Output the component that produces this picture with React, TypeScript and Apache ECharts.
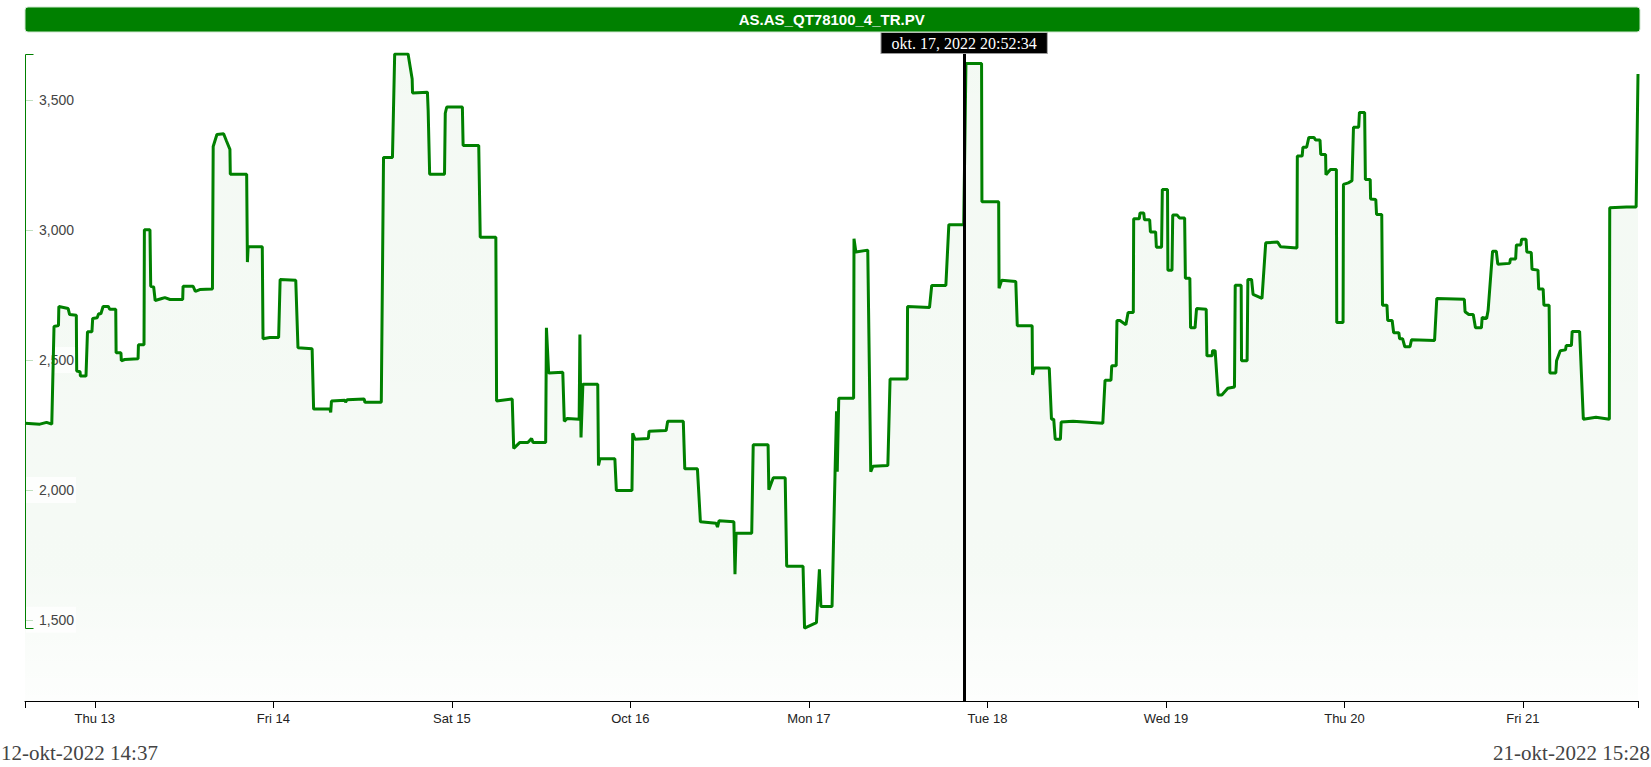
import React, { useEffect, useRef } from "react";
import * as echarts from "echarts";

const TITLE = "AS.AS_QT78100_4_TR.PV";
const START_LABEL = "12-okt-2022 14:37";
const END_LABEL = "21-okt-2022 15:28";
const MARKER_LABEL = "okt. 17, 2022 20:52:34";

const startTime = Date.UTC(2022, 9, 12, 14, 37);
const endTime = Date.UTC(2022, 9, 21, 15, 28);
const markerTime = Date.UTC(2022, 9, 17, 20, 52, 34);

const dayTicks = [13, 14, 15, 16, 17, 18, 19, 20, 21].map((d) => Date.UTC(2022, 9, d));
const dayLabels = ["Thu 13", "Fri 14", "Sat 15", "Oct 16", "Mon 17", "Tue 18", "Wed 19", "Thu 20", "Fri 21"];
const yTicks = [1500, 2000, 2500, 3000, 3500];

// [hours since 12-okt-2022 14:37, value]
const pointsOct12_13: [number, number][] = [
  [0, 2257], [2.0, 2253], [2.9, 2260], [3.6, 2253], [3.9, 2629], [4.5, 2633], [4.55, 2706], [5.8, 2698], [6.0, 2675], [6.9, 2672],
  [6.95, 2458], [7.4, 2455], [7.45, 2438], [8.2, 2438], [8.4, 2609], [9.0, 2609], [9.1, 2660], [9.7, 2663], [9.9, 2678], [10.2, 2678],
  [10.5, 2706], [11.2, 2706], [11.4, 2695], [12.2, 2695], [12.25, 2528], [12.9, 2528], [12.95, 2497], [13.4, 2502], [15.2, 2505], [15.25, 2559],
  [16.0, 2559], [16.05, 3001], [16.8, 3001], [16.9, 2784], [17.3, 2781], [17.5, 2729], [18.4, 2737], [18.8, 2740], [19.5, 2733], [21.2, 2733],
  [21.25, 2784], [22.6, 2784], [22.9, 2764], [23.5, 2771], [25.2, 2773], [25.3, 3322], [25.8, 3368], [26.7, 3371], [27.1, 3342], [27.55, 3311],
  [27.6, 3215], [29.8, 3215], [29.9, 2877], [30.0, 2936], [31.9, 2936], [32.0, 2582], [32.9, 2587],
];
const pointsOct14_15: [number, number][] = [
  [34.1, 2587], [34.3, 2810], [36.4, 2807], [36.7, 2547], [38.6, 2543], [38.8, 2311], [41.0, 2311], [41.1, 2298], [41.2, 2342], [43.0, 2345],
  [43.1, 2338], [43.3, 2347], [45.6, 2350], [45.7, 2337], [47.9, 2337], [48.2, 3280], [49.4, 3280], [49.7, 3678], [51.5, 3678], [52.05, 3582],
  [52.1, 3528], [54.1, 3531], [54.2, 3461], [54.4, 3215], [56.4, 3215], [56.5, 3450], [56.7, 3474], [58.8, 3474], [58.9, 3326], [61.0, 3326],
  [61.2, 2973], [63.3, 2973], [63.4, 2342], [65.5, 2350], [65.7, 2160], [66.5, 2182], [67.6, 2182], [68.1, 2198], [68.3, 2182], [70.0, 2182],
  [70.1, 2624], [70.4, 2450], [72.3, 2453], [72.5, 2264], [72.9, 2275], [74.5, 2272], [74.6, 2598], [74.75, 2202], [75.0, 2407], [77.0, 2407],
  [77.1, 2094], [77.3, 2120], [79.3, 2120], [79.5, 1998], [81.6, 1998],
];
const pointsOct16_17: [number, number][] = [
  [81.7, 2218], [82.0, 2195], [83.8, 2198], [83.9, 2226], [86.2, 2229], [86.4, 2264], [88.5, 2264], [88.7, 2081], [90.4, 2081], [90.8, 1877],
  [92.9, 1872], [93.1, 1857], [93.3, 1881], [95.3, 1877], [95.45, 1675], [95.6, 1833], [97.7, 1833], [97.9, 2174], [99.9, 2174], [100.0, 2001],
  [100.6, 2047], [102.2, 2047], [102.4, 1706], [104.6, 1706], [104.8, 1468], [106.4, 1489], [106.8, 1694], [107.0, 1551], [108.5, 1551], [108.9, 2063],
  [109.1, 2303], [109.2, 2070], [109.4, 2353], [111.4, 2353], [111.45, 2967], [111.7, 2916], [113.3, 2923], [113.7, 2070], [114.0, 2091], [116.0, 2094],
  [116.3, 2427], [118.6, 2427], [118.65, 2706], [121.6, 2702], [121.9, 2787], [123.8, 2787], [124.2, 3021], [126.2, 3021], [126.5, 3641], [128.6, 3641],
];
const pointsOct18_19: [number, number][] = [
  [128.65, 3109], [130.9, 3109], [130.95, 2776], [131.3, 2807], [133.2, 2802], [133.4, 2632], [135.4, 2632], [135.45, 2443], [135.7, 2469], [137.7, 2469],
  [138.0, 2272], [138.3, 2272], [138.5, 2195], [139.2, 2195], [139.3, 2261], [140.9, 2264], [144.9, 2257], [145.2, 2422], [146.0, 2422], [146.1, 2478],
  [146.7, 2478], [146.8, 2652], [147.2, 2652], [148.0, 2636], [148.3, 2683], [149.0, 2683], [149.05, 3044], [149.8, 3044], [149.9, 3066], [150.4, 3066],
  [150.5, 3040], [151.2, 3040], [151.3, 2993], [152.0, 2993], [152.1, 2934], [152.8, 2934], [152.9, 3156], [153.6, 3156], [153.65, 2846], [154.2, 2846],
  [154.3, 3058], [154.9, 3058], [155.2, 3047], [155.9, 3047], [156.0, 2815], [156.6, 2815], [156.7, 2624], [157.3, 2624], [157.5, 2698], [158.8, 2695],
  [158.9, 2516], [159.6, 2516], [159.65, 2536], [160.0, 2536], [160.4, 2365], [160.9, 2365], [161.7, 2391], [162.6, 2396], [162.7, 2788], [163.5, 2788],
  [163.55, 2497], [164.3, 2497], [164.4, 2810], [164.9, 2810], [165.1, 2753], [166.3, 2737], [166.8, 2951], [168.4, 2954], [168.8, 2936], [171.0, 2931],
];
const pointsOct20_21: [number, number][] = [
  [171.05, 3285], [171.7, 3285], [171.8, 3319], [172.3, 3319], [172.6, 3357], [173.3, 3357], [173.5, 3347], [174.1, 3347], [174.2, 3291], [174.85, 3291],
  [174.9, 3213], [175.5, 3233], [176.3, 3233], [176.35, 2644], [177.2, 2644], [177.25, 3176], [177.9, 3182], [178.4, 3190], [178.6, 3396], [179.3, 3396],
  [179.4, 3453], [180.1, 3453], [180.2, 3195], [180.85, 3195], [180.9, 3120], [181.6, 3118], [181.7, 3060], [182.4, 3060], [182.5, 2711], [183.1, 2711],
  [183.2, 2652], [183.8, 2652], [184.0, 2605], [184.7, 2605], [184.8, 2582], [185.2, 2582], [185.5, 2551], [186.2, 2551], [186.4, 2578], [189.5, 2575],
  [189.8, 2737], [193.5, 2734], [193.6, 2686], [194.1, 2675], [194.7, 2675], [195.0, 2624], [195.8, 2624], [195.9, 2664], [196.5, 2660], [196.7, 2691],
  [197.3, 2919], [197.8, 2919], [198.0, 2869], [199.6, 2872], [199.7, 2889], [200.4, 2889], [200.5, 2943], [201.1, 2943], [201.2, 2965], [201.8, 2965],
  [201.9, 2916], [202.5, 2914], [202.6, 2849], [203.4, 2846], [203.5, 2773], [204.1, 2773], [204.2, 2711], [204.9, 2711], [205.0, 2450], [205.8, 2450],
  [205.9, 2497], [206.4, 2536], [207.1, 2539], [207.2, 2556], [207.9, 2556], [208.0, 2610], [209.0, 2610], [209.5, 2272], [211.2, 2280], [213.0, 2272],
  [213.05, 3086], [215.3, 3089], [216.6, 3089], [216.85, 3601],
];

const GREEN = "#008000";

export default function App() {
  const ref = useRef<HTMLDivElement>(null);

  useEffect(() => {
    const el = ref.current;
    if (!el) return;
    const chart = echarts.init(el, null, { renderer: "svg" });

    const points = [...pointsOct12_13, ...pointsOct14_15, ...pointsOct16_17, ...pointsOct18_19, ...pointsOct20_21];
    const data = points.map(([h, v]) => [startTime + h * 3600000, v]);
    const vals = points.map((p) => p[1]);
    const dataMin = Math.min(...vals);
    const dataMax = Math.max(...vals);
    const yMin = dataMin - (dataMax - dataMin) * 0.127;
    const yMax = dataMax;

    const labelFor = (v: number) => {
      for (let i = 0; i < dayTicks.length; i++) {
        if (Math.abs(dayTicks[i] - v) < 60000) return dayLabels[i];
      }
      return "";
    };

    chart.setOption({
      animation: false,
      grid: { left: 25, right: 13, top: 54, bottom: 66, containLabel: false },
      xAxis: {
        type: "value",
        min: startTime,
        max: endTime,
        axisLine: { show: true, lineStyle: { color: "#000", width: 1 } },
        axisTick: {
          show: true,
          length: 7,
          customValues: [startTime, ...dayTicks, endTime],
          lineStyle: { color: "#000", width: 1 },
        },
        axisLabel: {
          show: true,
          customValues: dayTicks,
          formatter: (v: number) => labelFor(v),
          color: "#222",
          fontSize: 13,
          fontFamily: "'Liberation Sans', Arial, sans-serif",
          margin: 11,
          hideOverlap: false,
        },
        splitLine: { show: false },
      },
      yAxis: {
        type: "value",
        min: yMin,
        max: yMax,
        z: 3,
        axisLine: { show: false },
        axisTick: {
          show: true,
          inside: true,
          length: 8,
          customValues: yTicks,
          lineStyle: { color: GREEN, width: 1 },
        },
        axisLabel: {
          show: true,
          inside: true,
          customValues: yTicks,
          margin: 1,
          formatter: (v: number) => v.toLocaleString("en-US"),
          color: "#444",
          fontSize: 14,
          fontFamily: "'Liberation Sans', Arial, sans-serif",
          backgroundColor: "rgba(255,255,255,0.75)",
          padding: [6, 2, 6, 13],
        },
        splitLine: { show: false },
      },
      series: [
        {
          type: "line",
          data,
          showSymbol: false,
          symbol: "none",
          lineStyle: { color: GREEN, width: 3 },
          itemStyle: { color: GREEN },
          areaStyle: {
            origin: "start",
            color: new echarts.graphic.LinearGradient(0, 0, 0, 1, [
              { offset: 0, color: "rgba(0,128,0,0.065)" },
              { offset: 0.8, color: "rgba(0,128,0,0.055)" },
              { offset: 1, color: "rgba(0,128,0,0.012)" },
            ]),
          },
          markLine: {
            silent: true,
            symbol: ["none", "none"],
            data: [{ xAxis: markerTime }],
            lineStyle: { color: "#000", width: 3, type: "solid" },
            label: {
              show: true,
              position: "end",
              distance: 1,
              formatter: MARKER_LABEL,
              color: "#fff",
              backgroundColor: "#000",
              borderColor: "#999",
              borderWidth: 1,
              fontFamily: "'Liberation Serif', 'Times New Roman', serif",
              fontSize: 16,
              lineHeight: 18,
              padding: [1, 10, 1, 10],
            },
          },
        },
      ],
    });

    const x0 = Math.round(chart.convertToPixel({ xAxisIndex: 0 }, startTime) as number) + 0.5;
    const yTop = Math.round(chart.convertToPixel({ yAxisIndex: 0 }, dataMax) as number) + 0.5;
    const yBot = Math.round(chart.convertToPixel({ yAxisIndex: 0 }, dataMin) as number) + 0.5;
    const xEnd = chart.convertToPixel({ xAxisIndex: 0 }, endTime) as number;

    chart.setOption({
      graphic: [
        {
          type: "rect",
          id: "titleBar",
          z: 10,
          shape: { x: x0 - 0.5, y: 7, width: xEnd - x0 + 2.5, height: 25, r: 3 },
          style: { fill: GREEN, stroke: "#cfe6cf", lineWidth: 1 },
        },
        {
          type: "text",
          id: "titleText",
          z: 11,
          x: (x0 + xEnd) / 2,
          y: 19.5,
          style: {
            text: TITLE,
            fill: "#fff",
            font: "bold 15px 'Liberation Sans', Arial, sans-serif",
            textAlign: "center",
            textVerticalAlign: "middle",
          },
        },
        {
          type: "polyline",
          id: "yDomain",
          z: 10,
          shape: { points: [[x0 + 8, yTop], [x0, yTop], [x0, yBot], [x0 + 8, yBot]] },
          style: { stroke: GREEN, lineWidth: 1, fill: null },
        },
        {
          type: "text",
          id: "startLabel",
          z: 10,
          x: 1,
          y: 753,
          style: {
            text: START_LABEL,
            fill: "#444",
            font: "21px 'Liberation Serif', 'Times New Roman', serif",
            textAlign: "left",
            textVerticalAlign: "middle",
          },
        },
        {
          type: "text",
          id: "endLabel",
          z: 10,
          x: 1650,
          y: 753,
          style: {
            text: END_LABEL,
            fill: "#444",
            font: "21px 'Liberation Serif', 'Times New Roman', serif",
            textAlign: "right",
            textVerticalAlign: "middle",
          },
        },
      ],
    });

    return () => chart.dispose();
  }, []);

  return (
    <div style={{ position: "absolute", left: 0, top: 0, width: 1651, height: 767, background: "#fff" }}>
      <div ref={ref} style={{ width: 1651, height: 767 }} />
    </div>
  );
}
